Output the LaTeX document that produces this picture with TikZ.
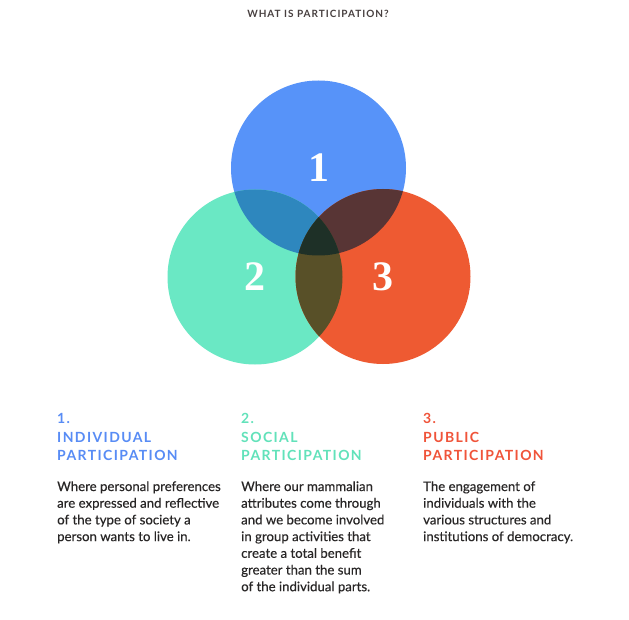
\documentclass[tikz,border=0pt]{standalone}
\usepackage{fontspec}
\setmainfont{Lato}
\newfontfamily\bodyfont[FakeBold=0.3]{Lato}
\newfontfamily\headfont[LetterSpace=10]{Lato}
\newfontfamily\titlefont[LetterSpace=10]{Lato}
\newfontfamily\numfont{Liberation Serif}
\definecolor{cblue}{RGB}{87,147,249}
\definecolor{cteal}{RGB}{106,232,196}
\definecolor{cred}{RGB}{238,90,50}
\definecolor{cbt}{RGB}{46,135,190}
\definecolor{cbr}{RGB}{88,53,53}
\definecolor{ctr}{RGB}{88,80,40}
\definecolor{cmid}{RGB}{30,48,39}
\definecolor{hblue}{RGB}{88,140,245}
\definecolor{hteal}{RGB}{98,226,186}
\definecolor{hred}{RGB}{240,84,58}
\definecolor{bodyc}{RGB}{40,38,38}
\definecolor{titlec}{RGB}{72,64,64}
\tikzset{
  digit/.style={font=\numfont\bfseries\fontsize{42}{42}\selectfont, text=white, inner sep=0pt},
  head/.style={font=\headfont\bfseries\fontsize{14}{14}\selectfont, anchor=base west, inner sep=0pt},
  body/.style={font=\bodyfont\fontsize{13.2}{16.7}\selectfont, text=bodyc, anchor=base west, inner sep=0pt},
  titlestyle/.style={font=\titlefont\bfseries\fontsize{10}{10}\selectfont, text=titlec, anchor=base, inner sep=0pt}
}
\begin{document}
\begin{tikzpicture}[x=1pt,y=-1pt]
\useasboundingbox (0,0) rectangle (629,620);
\fill[white] (0,0) rectangle (629,620);
\def\R{87.5}
\coordinate (p1) at (318.5,168);
\coordinate (p2) at (255,277);
\coordinate (p3) at (383,276.5);
\fill[cblue] (p1) circle[radius=\R];
\fill[cteal] (p2) circle[radius=\R];
\fill[cred] (p3) circle[radius=\R];
\begin{scope}\clip (p1) circle[radius=\R]; \fill[cbt] (p2) circle[radius=\R]; \end{scope}
\begin{scope}\clip (p1) circle[radius=\R]; \fill[cbr] (p3) circle[radius=\R]; \end{scope}
\begin{scope}\clip (p2) circle[radius=\R]; \fill[ctr] (p3) circle[radius=\R]; \end{scope}
\begin{scope}\clip (p1) circle[radius=\R]; \clip (p2) circle[radius=\R]; \fill[cmid] (p3) circle[radius=\R]; \end{scope}
\node[digit] (n1) at (p1) {1};
\node[digit] (n2) at (p2) {2};
\node[digit] (n3) at (p3) {3};
\node[titlestyle] (title) at (318,18) {WHAT IS PARTICIPATION?};
% column 1
\node[head, text=hblue] (h1a) at (57,423) {1.};
\node[head, text=hblue] (h1b) at (57,442) {INDIVIDUAL};
\node[head, text=hblue] (h1c) at (57,460) {PARTICIPATION};
\foreach \t [count=\i] in {Where personal preferences, are expressed and reflective, of the type of society a, person wants to live in.}
  \node[body] (a\i) at (57,{491+16.7*(\i-1)}) {\t};
% column 2
\node[head, text=hteal] (h2a) at (241,423) {2.};
\node[head, text=hteal] (h2b) at (241,442) {SOCIAL};
\node[head, text=hteal] (h2c) at (241,460) {PARTICIPATION};
\foreach \t [count=\i] in {Where our mammalian, attributes come through, and we become involved, in group activities that, create a total benefit, greater than the sum, of the individual parts.}
  \node[body] (b\i) at (241,{491+16.7*(\i-1)}) {\t};
% column 3
\node[head, text=hred] (h3a) at (423,423) {3.};
\node[head, text=hred] (h3b) at (423,442) {PUBLIC};
\node[head, text=hred] (h3c) at (423,460) {PARTICIPATION};
\foreach \t [count=\i] in {The engagement of, individuals with the, various structures and, institutions of democracy.}
  \node[body] (c\i) at (423,{491+16.7*(\i-1)}) {\t};
\end{tikzpicture}
\end{document}
